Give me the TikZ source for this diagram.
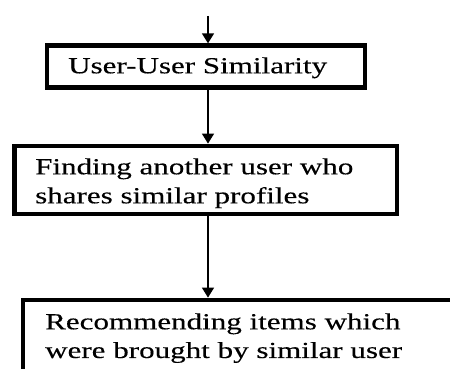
\documentclass[tikz,border=0pt]{standalone}
\usepackage{fontspec}
\setmainfont{Liberation Serif}[FakeStretch=1.35,FakeBold=0.3]
\usetikzlibrary{arrows.meta}
\begin{document}
\begin{tikzpicture}[x=1pt,y=1pt,
  box/.style={draw=black,line width=4.8pt,minimum width=#1,inner sep=0pt,fill=white},
  lbl/.style={anchor=base west,inner sep=0pt,font=\fontsize{23pt}{27pt}\selectfont},
  arr/.style={draw=black,line width=1.5pt,-{Triangle[length=10pt,width=12pt]}}]
\useasboundingbox (0,0) rectangle (450,369);
\clip (0,0) rectangle (450,369);
\coordinate (top) at (208,353);
\node[box=318pt,minimum height=41.7pt] (b1) at (206,302.4) {};
\node[box=382.5pt,minimum height=68pt] (b2) at (205.75,189) {};
\node[box=457pt,minimum height=99pt] (b3) at (251.5,19.5) {};
\draw[arr] (top) -- (top |- b1.north);
\draw[arr] (top |- b1.south) -- (top |- b2.north);
\draw[arr] (top |- b2.south) -- (top |- b3.north);
\node[lbl] (t1) at (68,295.7) {User-User Similarity};
\node[lbl] (t2a) at (35,194.7) {Finding another user who};
\node[lbl] (t2b) at (35,165.7) {shares similar profiles};
\node[lbl] (t3a) at (45,39.7) {Recommending items which};
\node[lbl] (t3b) at (45,11) {were brought by similar user};
\end{tikzpicture}
\end{document}
